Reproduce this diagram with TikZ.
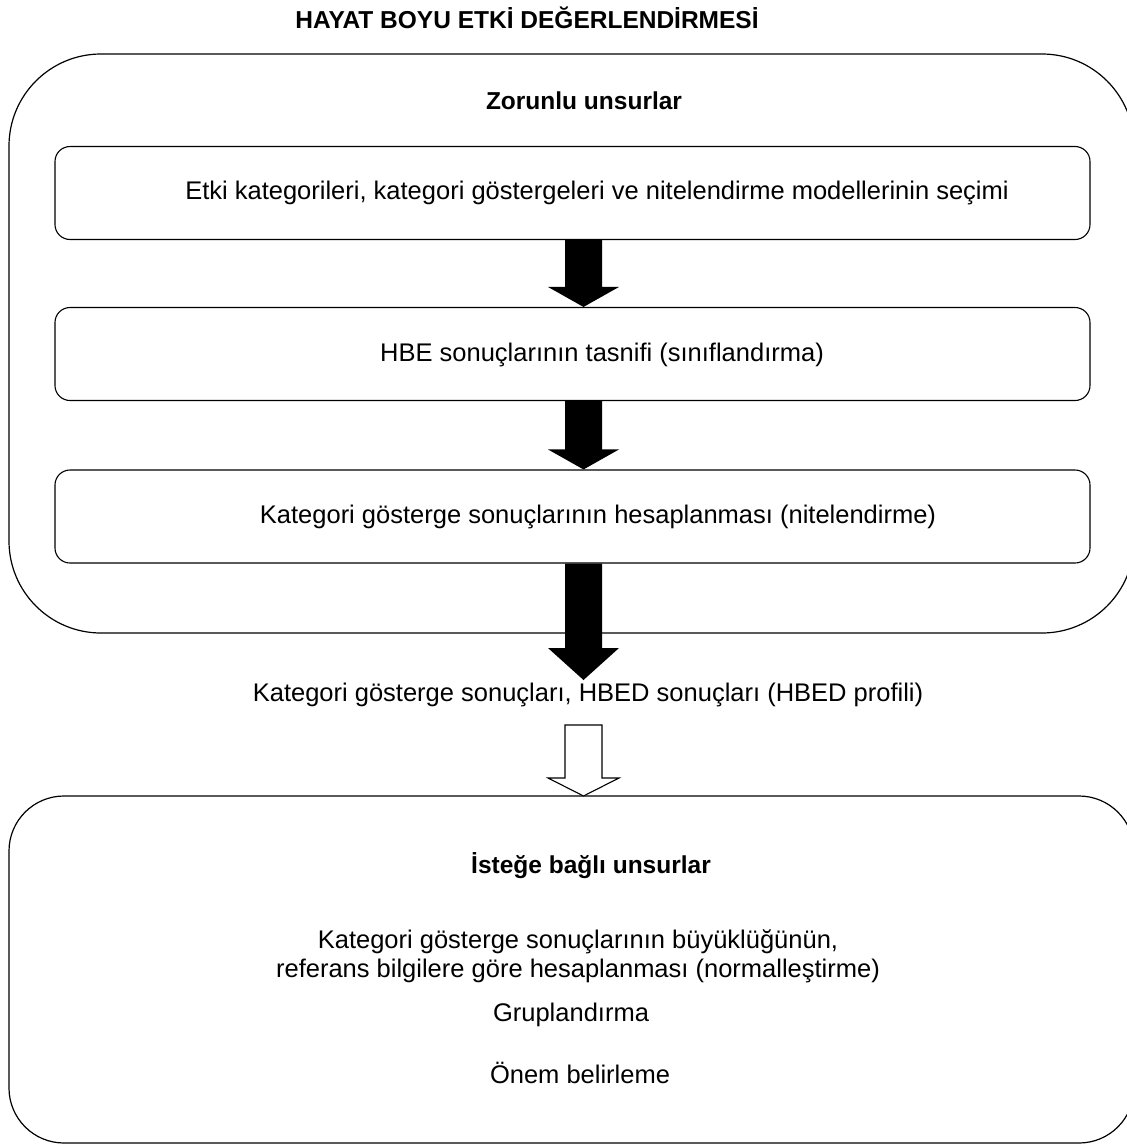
\documentclass[tikz,border=0pt]{standalone}
\usepackage{fontspec}
\setmainfont{Liberation Sans}
\usetikzlibrary{calc}

\tikzset{
  frame/.style={draw, line width=1.2pt},
  stepbox/.style={draw, line width=1.1pt, rounded corners=15pt,
    minimum width=1035pt, minimum height=93pt, inner sep=0pt},
  body/.style={font=\fontsize{25.5}{29}\selectfont, inner sep=0pt, align=center},
  heading/.style={font=\bfseries\fontsize{24.5}{29}\selectfont, inner sep=0pt},
  solidarrow/.style={fill=black},
  hollowarrow/.style={draw, line width=1.1pt, fill=white, line join=miter},
}

% block arrow pointing down from #1 to #2, head length #3, style #4
\newcommand{\blockdown}[4]{%
  \path[#4] ($(#1)+(-18.5,0)$) -- ($(#1 |- #2)+(-18.5,-#3)$)
    -- ($(#1 |- #2)+(-35.5,-#3)$) -- (#1 |- #2)
    -- ($(#1 |- #2)+(35.5,-#3)$) -- ($(#1 |- #2)+(18.5,-#3)$)
    -- ($(#1)+(18.5,0)$) -- cycle;}

\begin{document}
\begin{tikzpicture}[x=1pt, y=-1pt]
  \useasboundingbox (0,0) rectangle (1127,1146);

  % title
  \node[heading] (title) at (527,18) {HAYAT BOYU ETKİ DEĞERLENDİRMESİ};

  % mandatory elements frame
  \draw[frame, rounded corners=92pt] (9,54) rectangle (1134,633);
  \node[heading] (mand) at (584,101) {Zorunlu unsurlar};

  \node[stepbox] (b1) at (572.5,193) {};
  \node[stepbox] (b2) at (572.5,354) {};
  \node[stepbox] (b3) at (572.5,516.5) {};

  \node[body] (t1) at (597,193) {Etki kategorileri, kategori göstergeleri ve nitelendirme modellerinin seçimi};
  \node[body] (t2) at (602,355) {HBE sonuçlarının tasnifi (sınıflandırma)};
  \node[body] (t3) at (598,517) {Kategori gösterge sonuçlarının hesaplanması (nitelendirme)};

  % result line
  \node[body] (res) at (588,695) {Kategori gösterge sonuçları, HBED sonuçları (HBED profili)};

  % optional elements frame
  \draw[frame, rounded corners=55pt] (9,796) rectangle (1134,1143);
  \coordinate (optop) at (583.5,796);
  \node[heading] (opt) at (591,866) {İsteğe bağlı unsurlar};
  \node[body] (n1) at (578,956) {Kategori gösterge sonuçlarının büyüklüğünün,\\referans bilgilere göre hesaplanması (normalleştirme)};
  \node[body] (n2) at (571,1015) {Gruplandırma};
  \node[body] (n3) at (580,1073) {Önem belirleme};

  % arrows
  \coordinate (a1) at ($(b1.south)+(11,0)$);
  \coordinate (a2) at ($(b2.south)+(11,0)$);
  \coordinate (a3) at ($(b3.south)+(11,0)$);
  \coordinate (tip3) at (583.5,680);
  \coordinate (a4) at (583.5,725);
  \blockdown{a1}{b2.north}{20}{solidarrow}
  \blockdown{a2}{b3.north}{20}{solidarrow}
  \blockdown{a3}{tip3}{32}{solidarrow}
  \blockdown{a4}{optop}{18}{hollowarrow}
\end{tikzpicture}
\end{document}
